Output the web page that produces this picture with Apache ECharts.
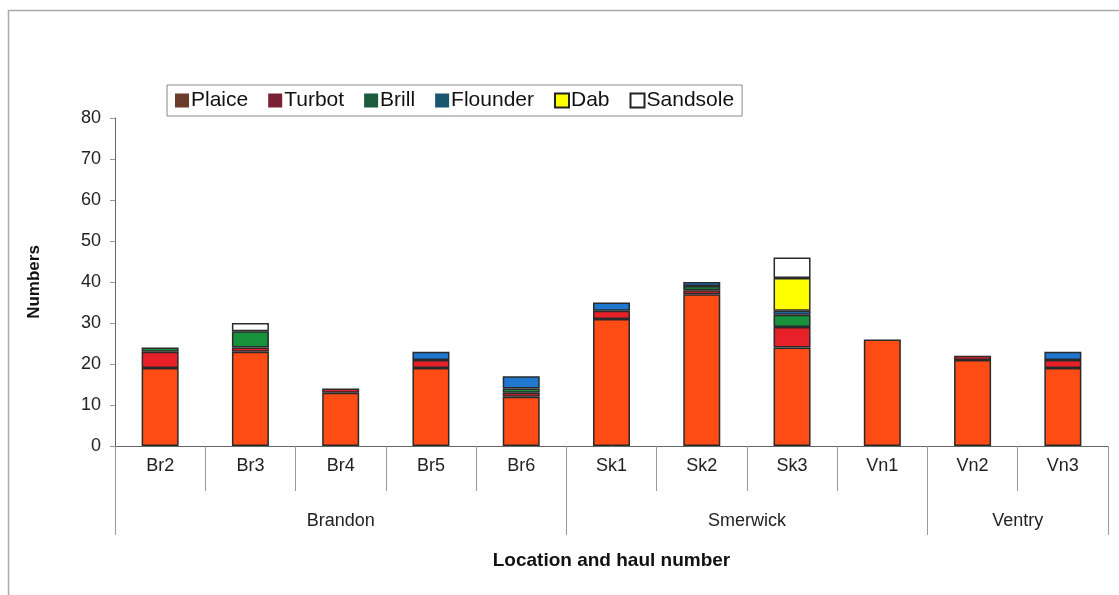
<!DOCTYPE html>
<html>
<head>
<meta charset="utf-8">
<script src="https://cdn.jsdelivr.net/npm/echarts@6/dist/echarts.min.js"></script>
<style>
  html, body { margin: 0; padding: 0; background: #fff; }
  #chart { width: 1119px; height: 595px; }
</style>
</head>
<body>
<div id="chart"></div>
<script>
// 类别（拖网编号）
const hauls = ["Br2", "Br3", "Br4", "Br5", "Br6", "Sk1", "Sk2", "Sk3", "Vn1", "Vn2", "Vn3"];
// 地点分组
const locations = ["Brandon", "Smerwick", "Ventry"];
const locationBounds = [0, 5, 9, 11];
const locationCenters = [2.5, 7, 10];

// 各物种数量
const plaice   = [19, 23, 13, 19, 12, 31, 37, 24, 26, 21, 19];
const turbot   = [4, 1, 1, 2, 1, 2, 1, 5, 0, 1, 2];
const brill    = [1, 4, 0, 0, 1, 0, 1, 3, 0, 0, 0];
const flounder = [0, 0, 0, 2, 3, 2, 1, 1, 0, 0, 2];
const dab      = [0, 0, 0, 0, 0, 0, 0, 8, 0, 0, 0];
const sandsole = [0, 2, 0, 0, 0, 0, 0, 5, 0, 0, 0];

const yTicks = [0, 10, 20, 30, 40, 50, 60, 70, 80];

const species = [
  { name: "Plaice", data: plaice, color: "#ff4b14", legend: "#6b3b2c" },
  { name: "Turbot", data: turbot, color: "#e82128", legend: "#7a2035" },
  { name: "Brill", data: brill, color: "#17913c", legend: "#1e5a3c" },
  { name: "Flounder", data: flounder, color: "#1f77d0", legend: "#1a5670" },
  { name: "Dab", data: dab, color: "#ffff00", legend: "#ffff00" },
  { name: "Sandsole", data: sandsole, color: "#ffffff", legend: "#ffffff" }
];

const font = "Arial, 'Liberation Sans', sans-serif";
const chart = echarts.init(document.getElementById("chart"));

chart.setOption({
  animation: false,
  backgroundColor: "#fff",
  graphic: [
    {
      type: "rect",
      shape: { x: 8.5, y: 10.5, width: 1130, height: 600 },
      style: { fill: "none", stroke: "#aaa", lineWidth: 1.5 },
      z: -1
    }
  ],
  legend: {
    left: 167,
    top: 85,
    itemWidth: 14,
    itemHeight: 14,
    itemGap: 20,
    padding: [5, 8],
    backgroundColor: "#fff",
    borderColor: "#888",
    borderWidth: 1,
    textStyle: { fontFamily: font, fontSize: 21, color: "#111", padding: [0, 0, 0, -3] },
    data: species.map(s => ({
      name: s.name,
      icon: "rect",
      itemStyle: { color: s.legend, borderColor: "#222", borderWidth: s.name === "Dab" || s.name === "Sandsole" ? 2 : 0 }
    }))
  },
  grid: { left: 115, right: 11, top: 118, bottom: 149 },
  xAxis: [
    {
      type: "category",
      data: hauls,
      axisLine: { lineStyle: { color: "#666", width: 1 } },
      axisTick: { show: true, interval: 0, length: 45, lineStyle: { color: "#999" } },
      axisLabel: { interval: 0, margin: 11, fontFamily: font, fontSize: 18, color: "#222" }
    },
    {
      type: "value",
      position: "bottom",
      min: 0,
      max: 11,
      axisLine: { show: false },
      splitLine: { show: false },
      axisTick: { show: true, customValues: locationBounds, length: 89, lineStyle: { color: "#999" } },
      axisLabel: {
        customValues: locationCenters,
        margin: 66,
        fontFamily: font,
        fontSize: 18,
        color: "#222",
        formatter: v => locations[locationCenters.indexOf(v)]
      },
      name: "Location and haul number",
      nameLocation: "middle",
      nameGap: 105,
      nameTextStyle: { fontFamily: font, fontSize: 19, fontWeight: "bold", color: "#111" }
    }
  ],
  yAxis: {
    type: "value",
    min: yTicks[0],
    max: yTicks[yTicks.length - 1],
    interval: 10,
    axisLine: { show: true, lineStyle: { color: "#666" } },
    axisTick: { show: true, length: 5, lineStyle: { color: "#999" } },
    splitLine: { show: false },
    axisLabel: { margin: 14, fontFamily: font, fontSize: 18, color: "#222" },
    name: "Numbers",
    nameLocation: "middle",
    nameGap: 72,
    nameTextStyle: { fontFamily: font, fontSize: 17, fontWeight: "bold", color: "#111" }
  },
  series: species.map(s => ({
    name: s.name,
    type: "bar",
    stack: "total",
    xAxisIndex: 0,
    barWidth: "41%",
    data: s.data.map(v => (v === 0 ? "-" : v)),
    itemStyle: { color: s.color, borderColor: "#2a2a2a", borderWidth: 1.5 }
  }))
});
</script>
</body>
</html>
